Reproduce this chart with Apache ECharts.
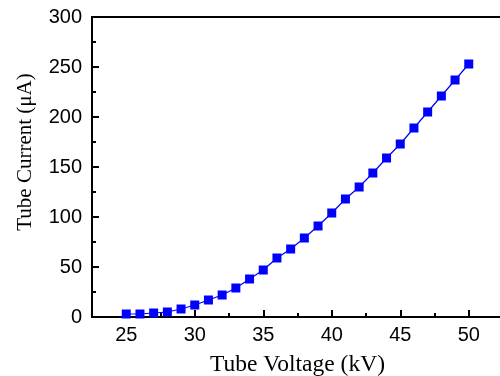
<!DOCTYPE html>
<html>
<head>
<meta charset="utf-8">
<script src="https://cdn.jsdelivr.net/npm/echarts@6/dist/echarts.min.js"></script>
<style>
  html, body { margin: 0; padding: 0; background: #fff; }
  #chart { width: 500px; height: 376px; }
</style>
</head>
<body>
<div id="chart"></div>
<script>
// tube voltage (kV) and tube current (µA)
const voltage = [25, 26, 27, 28, 29, 30, 31, 32, 33, 34, 35, 36, 37,
                 38, 39, 40, 41, 42, 43, 44, 45, 46, 47, 48, 49, 50];
const current = [3, 3, 4, 5, 8, 12, 17, 22, 29, 38, 47, 59, 68,
                 79, 91, 104, 118, 130, 144, 159, 173, 189, 205, 221, 237, 253];

const xMajorTicks = [25, 30, 35, 40, 45, 50];
const xMinorTicks = [22.5, 27.5, 32.5, 37.5, 42.5, 47.5, 52.5];

const chart = echarts.init(document.getElementById('chart'));

const sans = 'Liberation Sans';
const serif = 'Liberation Serif';

const option = {
  backgroundColor: '#fff',
  animation: false,
  grid: {
    left: 92,
    top: 17,
    width: 411,
    height: 300,
    outerBoundsMode: 'none',
    show: true,
    borderColor: '#000',
    borderWidth: 2,
    backgroundColor: 'transparent'
  },
  xAxis: [
    {
      type: 'value',
      min: 22.5,
      max: 52.5,
      name: 'Tube Voltage (kV)',
      nameLocation: 'middle',
      nameGap: 36,
      nameTextStyle: { fontFamily: serif, fontSize: 23.5, color: '#000' },
      axisLine: { onZero: false, lineStyle: { color: '#000', width: 2 } },
      axisTick: { inside: true, length: 7, lineStyle: { width: 2, color: '#000' }, customValues: xMajorTicks },
      axisLabel: { fontFamily: sans, fontSize: 20, color: '#000', margin: 8, customValues: xMajorTicks },
      splitLine: { show: false }
    },
    {
      type: 'value',
      position: 'bottom',
      min: 22.5,
      max: 52.5,
      axisLine: { show: false },
      axisTick: { inside: true, length: 4, lineStyle: { width: 2, color: '#000' }, customValues: xMinorTicks },
      axisLabel: { show: false },
      splitLine: { show: false }
    }
  ],
  yAxis: {
    type: 'value',
    min: 0,
    max: 300,
    interval: 50,
    name: 'Tube Current (μA)',
    nameLocation: 'middle',
    nameGap: 56,
    nameTextStyle: { fontFamily: serif, fontSize: 21, color: '#000', padding: [0, 0, 0, 30] },
    axisLine: { show: true, lineStyle: { color: '#000', width: 2 } },
    axisTick: { inside: true, length: 7, lineStyle: { width: 2, color: '#000' } },
    minorTick: { show: true, splitNumber: 2, length: 4, lineStyle: { width: 2, color: '#000' } },
    axisLabel: { fontFamily: sans, fontSize: 20, color: '#000', margin: 10 },
    splitLine: { show: false }
  },
  series: [
    {
      type: 'line',
      data: voltage.map((v, i) => [v, current[i]]),
      symbol: 'rect',
      symbolSize: 9,
      showSymbol: true,
      lineStyle: { color: '#0000ff', width: 1.2 },
      itemStyle: { color: '#0000ff' }
    }
  ]
};

chart.setOption(option);
</script>
</body>
</html>
